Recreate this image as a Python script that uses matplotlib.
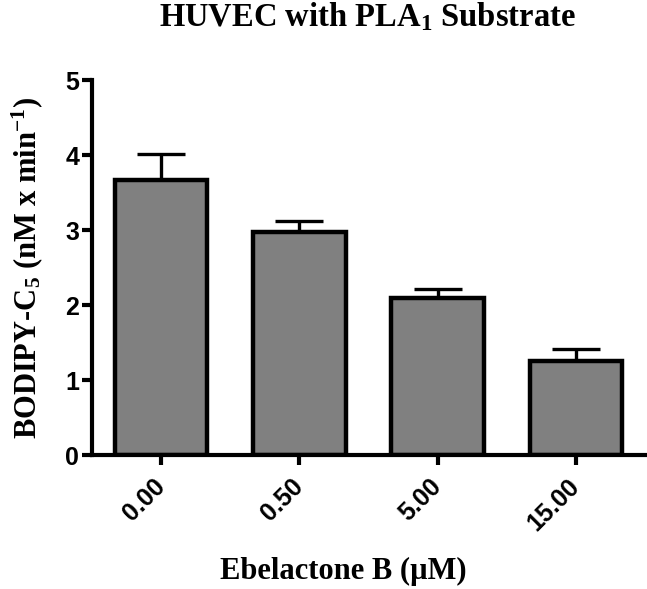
import numpy as np
import matplotlib
matplotlib.use("Agg")
import matplotlib.pyplot as plt

plt.rcParams['mathtext.fontset'] = 'custom'
plt.rcParams['mathtext.rm'] = 'Liberation Serif:bold'
plt.rcParams['mathtext.bf'] = 'Liberation Serif:bold'
plt.rcParams['mathtext.it'] = 'Liberation Serif:bold'

# data
doses = ["0.00", "0.50", "5.00", "15.00"]
rate = [3.67, 2.97, 2.10, 1.25]
rate_err = [0.35, 0.15, 0.12, 0.17]

fig = plt.figure(figsize=(6.47, 5.89), dpi=100)
ax = fig.add_axes([0.142, 0.227, 0.855, 0.637])

x = np.arange(len(doses))
ax.bar(x, rate, width=0.67, color='#808080', edgecolor='black', linewidth=3.2, zorder=2)
ax.errorbar(x, rate, yerr=[np.zeros(len(rate)), rate_err], fmt='none', ecolor='black',
            elinewidth=2.4, capsize=17, capthick=2.4, zorder=1)

ax.set_xlim(-0.5, 3.5)
ax.set_ylim(0, 5)
ax.set_yticks([0, 1, 2, 3, 4, 5])
ax.set_xticks(x)
ax.set_xticklabels(doses, rotation=45, ha='right', va='center', rotation_mode='anchor')
for lab in ax.get_xticklabels() + ax.get_yticklabels():
    lab.set_fontfamily('Liberation Sans')
    lab.set_fontweight('bold')
    lab.set_fontsize(18)

for s in ['top', 'right']:
    ax.spines[s].set_visible(False)
for s in ['left', 'bottom']:
    ax.spines[s].set_linewidth(3)
ax.tick_params(width=3, length=7, direction='out', pad=2)
ax.tick_params(axis='x', pad=13)

fig.text(0.568, 0.972, r"HUVEC with PLA$_{1}$ Substrate", family='Liberation Serif',
         weight='bold', fontsize=23.5, ha='center', va='center')
ax.set_ylabel(r"BODIPY-C$_{5}$ (nM x min$^{-1}$)", family='Liberation Serif', weight='bold',
              fontsize=22)
ax.yaxis.set_label_coords(-0.084, 0.5)
ax.set_xlabel("Ebelactone B (\u00b5M)", family='Liberation Serif', weight='bold',
              fontsize=22)
ax.xaxis.set_label_coords(0.455, -0.272)

plt.savefig('out.png', dpi=100)
plt.close()
